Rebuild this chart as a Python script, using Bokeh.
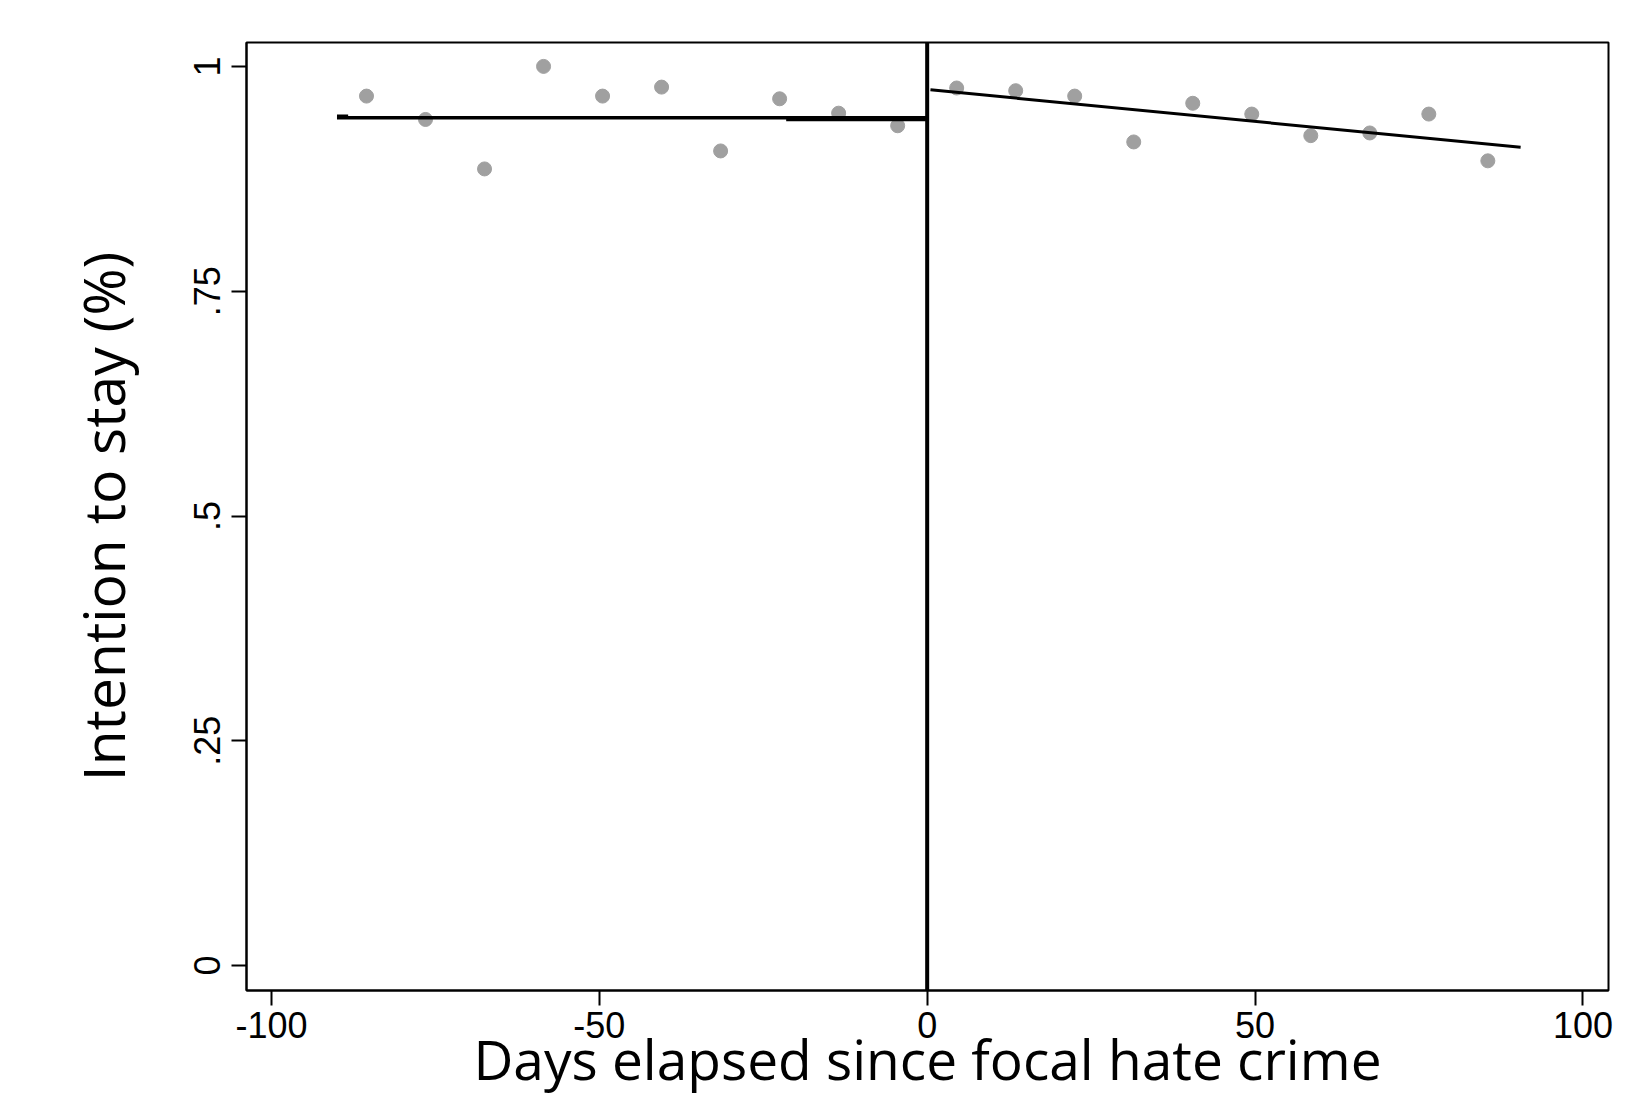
from bokeh.plotting import figure
from bokeh.models import Range1d, FixedTicker, Span, ColumnDataSource
from bokeh.embed import file_html
from bokeh.resources import INLINE

# ---- data ----
pre_days = [-85.5, -76.5, -67.5, -58.5, -49.5, -40.5, -31.5, -22.5, -13.5, -4.5]
pre_stay = [0.967, 0.941, 0.886, 1.000, 0.967, 0.977, 0.906, 0.964, 0.948, 0.934]
post_days = [4.5, 13.5, 22.5, 31.5, 40.5, 49.5, 58.5, 67.5, 76.5, 85.5]
post_stay = [0.976, 0.973, 0.967, 0.916, 0.959, 0.947, 0.923, 0.926, 0.947, 0.895]

pre_fit_x = [-90.0, 0.0]
pre_fit_y = [0.943, 0.943]
pre_fit2_x = [-21.5, 0.0]
pre_fit2_y = [0.941, 0.941]
stub_x = [-90.0, -88.3]
stub_y = [0.944, 0.944]
post_fit_x = [0.5, 90.5]
post_fit_y = [0.974, 0.910]

cutoff = 0
x_ticks = [-100, -50, 0, 50, 100]
x_tick_labels = {-100: "-100", -50: "-50", 0: "0", 50: "50", 100: "100"}
y_ticks = [0, 0.25, 0.5, 0.75, 1]
y_tick_labels = {0: "0", 0.25: ".25", 0.5: ".5", 0.75: ".75", 1: "1"}

x_label = "Days elapsed since focal hate crime"
y_label = "Intention to stay (%)"

# ---- figure ----
p = figure(width=1626, height=1098, output_backend="svg", toolbar_location=None,
           x_range=Range1d(-103.8, 103.9), y_range=Range1d(-0.0277, 1.0266),
           min_border_left=246, min_border_top=42, min_border_right=18,
           min_border_bottom=0)
p.background_fill_color = "white"
p.border_fill_color = "white"
p.outline_line_color = "black"
p.outline_line_width = 2
p.xgrid.visible = False
p.ygrid.visible = False

pts = ColumnDataSource(dict(x=pre_days + post_days, y=pre_stay + post_stay))
p.scatter("x", "y", source=pts, size=14, color="#a0a0a0", line_color="#a0a0a0")

p.line(pre_fit_x, pre_fit_y, line_color="black", line_width=3.5)
p.line(pre_fit2_x, pre_fit2_y, line_color="black", line_width=3.5)
p.line(stub_x, stub_y, line_color="black", line_width=4.5)
p.line(post_fit_x, post_fit_y, line_color="black", line_width=3)

p.add_layout(Span(location=cutoff, dimension="height", line_color="black", line_width=4))

for ax in (p.xaxis[0], p.yaxis[0]):
    ax.axis_line_color = "black"
    ax.axis_line_width = 2
    ax.major_tick_line_color = "black"
    ax.major_tick_line_width = 2
    ax.major_tick_in = 0
    ax.major_tick_out = 15
    ax.minor_tick_line_color = None
    ax.major_label_text_font = "Liberation Sans"
    ax.major_label_text_font_size = "36px"
    ax.major_label_text_color = "black"
    ax.axis_label_text_font = "Open Sans"
    ax.axis_label_text_font_style = "normal"
    ax.axis_label_text_color = "black"

p.xaxis.axis_label_text_font_size = "55px"
p.yaxis.axis_label_text_font_size = "57px"
p.xaxis.ticker = FixedTicker(ticks=x_ticks)
p.yaxis.ticker = FixedTicker(ticks=y_ticks)
p.xaxis.major_label_overrides = x_tick_labels
p.yaxis.major_label_overrides = y_tick_labels
p.yaxis.major_label_orientation = "vertical"
p.xaxis.major_label_standoff = 6
p.yaxis.major_label_standoff = 11
p.xaxis.axis_label = x_label
p.yaxis.axis_label = y_label
p.xaxis.axis_label_standoff = -20
p.yaxis.axis_label_standoff = 50

open("out.html", "w").write(file_html(p, INLINE))
